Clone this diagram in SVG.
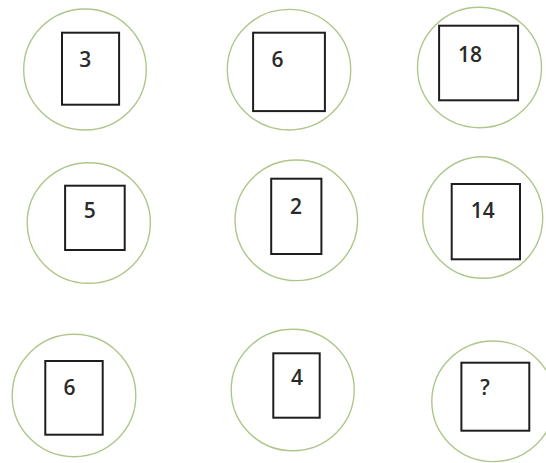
<svg xmlns="http://www.w3.org/2000/svg" width="546" height="463" viewBox="0 0 546 463">
<style>
.c{fill:none;stroke:#afc68a;stroke-width:1.4}
.r{fill:#fff;stroke:#1e1e1e;stroke-width:2}
.t{font-family:"Open Sans","Liberation Sans",sans-serif;font-size:21px;font-weight:600;fill:#2a2a2a;text-anchor:middle}
</style>
<rect width="546" height="463" fill="#fff"/>
<g id="n1"><ellipse class="c" cx="85" cy="69.5" rx="61.3" ry="60.5"/><rect class="r" x="62" y="32.7" width="57.1" height="72"/><text class="t" x="85.3" y="67">3</text></g>
<g id="n2"><ellipse class="c" cx="289" cy="69.7" rx="61.7" ry="60.3"/><rect class="r" x="253.1" y="32.7" width="71.8" height="78.4"/><text class="t" x="277.5" y="67">6</text></g>
<g id="n3"><ellipse class="c" cx="479.5" cy="67.5" rx="62" ry="60.2"/><rect class="r" x="439.1" y="25.7" width="79" height="74.6"/><text class="t" x="470" y="61.7">18</text></g>
<g id="n4"><ellipse class="c" cx="88.8" cy="223" rx="61.6" ry="60.3"/><rect class="r" x="65.1" y="185.7" width="59.6" height="64.3"/><text class="t" x="89.8" y="218.3">5</text></g>
<g id="n5"><ellipse class="c" cx="296.3" cy="220.3" rx="61.3" ry="60.3"/><rect class="r" x="271.2" y="178.7" width="50.2" height="75.3"/><text class="t" x="296" y="214.3">2</text></g>
<g id="n6"><ellipse class="c" cx="482.7" cy="217.5" rx="60" ry="60.8"/><rect class="r" x="451.7" y="184" width="68.3" height="75.3"/><text class="t" x="482.8" y="218.3">14</text></g>
<g id="n7"><ellipse class="c" cx="74" cy="395.5" rx="61.8" ry="61.2"/><rect class="r" x="45.3" y="361" width="57.4" height="73.7"/><text class="t" x="69.6" y="395">6</text></g>
<g id="n8"><ellipse class="c" cx="292.7" cy="390" rx="61.5" ry="60.7"/><rect class="r" x="273.3" y="353.3" width="46.4" height="64.4"/><text class="t" x="297" y="385">4</text></g>
<g id="n9"><ellipse class="c" cx="493.3" cy="401.3" rx="61.5" ry="60.3"/><rect class="r" x="461.4" y="362.7" width="67.9" height="68"/><text class="t" x="485" y="395">?</text></g>
</svg>
